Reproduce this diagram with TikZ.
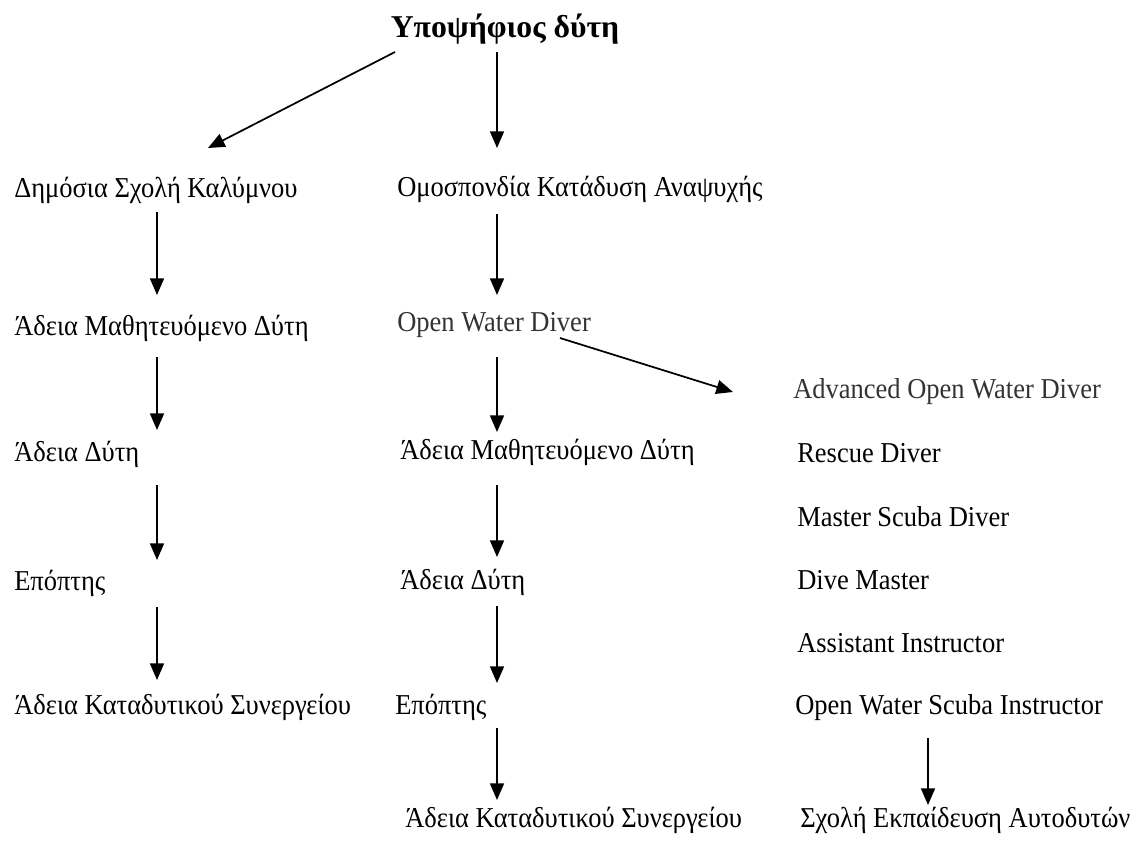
\documentclass[tikz,border=0pt]{standalone}
\usepackage{fontspec}
\usepackage{graphicx}
\setmainfont{Liberation Serif}
\usetikzlibrary{arrows.meta}
\definecolor{soft}{gray}{0.2}
\newcommand{\cond}[1]{\scalebox{0.92}[1]{#1}}
\tikzset{
  lbl/.style={anchor=base west,inner sep=0pt,font=\fontsize{21.6}{26}\selectfont},
  ttl/.style={anchor=base,inner sep=0pt,font=\fontsize{23.8}{28}\selectfont\bfseries},
  arr/.style={line width=1.3pt,-{Triangle[width=10.5pt,length=12.5pt]}}
}
\begin{document}
\begin{tikzpicture}[x=0.75pt,y=-0.75pt]
\useasboundingbox (0,0) rectangle (1136,843);
% title
\node[ttl] (top) at (505,37) {Υποψήφιος δύτη};
% left column
\node[lbl] (l1) at (14,197) {\cond{Δημόσια Σχολή Καλύμνου}};
\node[lbl] (l2) at (14,335) {\cond{Άδεια Μαθητευόμενο Δύτη}};
\node[lbl] (l3) at (14,461) {\cond{Άδεια Δύτη}};
\node[lbl] (l4) at (14,590) {\cond{Επόπτης}};
\node[lbl] (l5) at (14,714) {\cond{Άδεια Καταδυτικού Συνεργείου}};
% middle column
\node[lbl] (m1) at (397,196) {\cond{Ομοσπονδία Κατάδυση Αναψυχής}};
\node[lbl,text=soft] (m2) at (397,331) {\cond{Open Water Diver}};
\node[lbl] (m3) at (400,459) {\cond{Άδεια Μαθητευόμενο Δύτη}};
\node[lbl] (m4) at (400,589) {\cond{Άδεια Δύτη}};
\node[lbl] (m5) at (395,714) {\cond{Επόπτης}};
\node[lbl] (m6) at (405,827) {\cond{Άδεια Καταδυτικού Συνεργείου}};
% right column
\node[lbl,text=soft] (r1) at (793,398) {\cond{Advanced Open Water Diver}};
\node[lbl] (r2) at (797,462) {\cond{Rescue Diver}};
\node[lbl] (r3) at (797,526) {\cond{Master Scuba Diver}};
\node[lbl] (r4) at (797,589) {\cond{Dive Master}};
\node[lbl] (r5) at (797,652) {\cond{Assistant Instructor}};
\node[lbl] (r6) at (795,714) {\cond{Open Water Scuba Instructor}};
\node[lbl] (r7) at (800,827) {\cond{Σχολή Εκπαίδευση Αυτοδυτών}};
% connector end points
\coordinate (t0a) at (395,52);  \coordinate (t0b) at (208,148);
\coordinate (t1a) at (497,52);  \coordinate (t1b) at (497,148);
\coordinate (la1) at (157,212); \coordinate (lb1) at (157,295);
\coordinate (la2) at (157,357); \coordinate (lb2) at (157,430);
\coordinate (la3) at (157,485); \coordinate (lb3) at (157,560);
\coordinate (la4) at (157,607); \coordinate (lb4) at (157,680);
\coordinate (ma1) at (497,214); \coordinate (mb1) at (497,295);
\coordinate (ma2) at (497,357); \coordinate (mb2) at (497,432);
\coordinate (ma3) at (497,485); \coordinate (mb3) at (497,557);
\coordinate (ma4) at (497,606); \coordinate (mb4) at (497,683);
\coordinate (ma5) at (497,728); \coordinate (mb5) at (497,800);
\coordinate (da) at (560,338);  \coordinate (db) at (733,392);
\coordinate (ra) at (928,738);  \coordinate (rb) at (928,805);
% connectors
\draw[arr] (t0a) -- (t0b);
\draw[arr] (t1a) -- (t1b);
\draw[arr] (la1) -- (lb1);
\draw[arr] (la2) -- (lb2);
\draw[arr] (la3) -- (lb3);
\draw[arr] (la4) -- (lb4);
\draw[arr] (ma1) -- (mb1);
\draw[arr] (ma2) -- (mb2);
\draw[arr] (ma3) -- (mb3);
\draw[arr] (ma4) -- (mb4);
\draw[arr] (ma5) -- (mb5);
\draw[arr] (da) -- (db);
\draw[arr] (ra) -- (rb);
\end{tikzpicture}
\end{document}
